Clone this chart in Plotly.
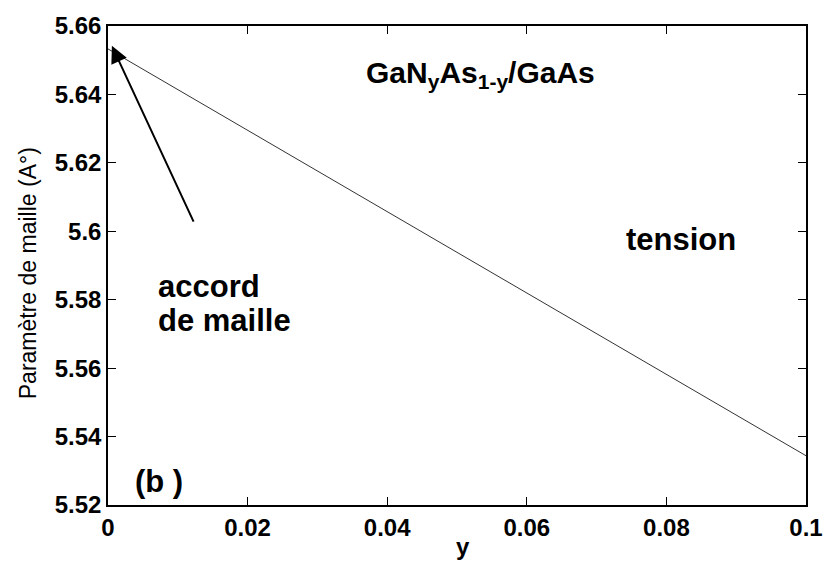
import plotly.graph_objects as go

# Lattice parameter of GaN(y)As(1-y) vs nitrogen fraction y (Vegard's law)
y_frac = [0.0, 0.02, 0.04, 0.06, 0.08, 0.1]
lattice = [5.6533, 5.6295, 5.6057, 5.5820, 5.5582, 5.5344]

x_ticks = [0, 0.02, 0.04, 0.06, 0.08, 0.1]
x_tick_text = ["0", "0.02", "0.04", "0.06", "0.08", "0.1"]
y_ticks = [5.52, 5.54, 5.56, 5.58, 5.60, 5.62, 5.64, 5.66]
y_tick_text = ["5.52", "5.54", "5.56", "5.58", "5.6", "5.62", "5.64", "5.66"]

FONT = "Liberation Sans, Arial, sans-serif"

fig = go.Figure()
fig.add_trace(go.Scatter(
    x=y_frac, y=lattice, mode="lines",
    line=dict(color="#333333", width=1),
    showlegend=False, hoverinfo="skip",
))

axis_common = dict(
    showline=True, linecolor="black", linewidth=1.5, mirror="ticks",
    ticks="inside", ticklen=8, tickwidth=1, tickcolor="black",
    showgrid=False, zeroline=False, ticklabeloverflow="allow",
    tickfont=dict(family=FONT, size=24, color="black", weight="bold"),
)

fig.update_xaxes(range=[0, 0.1], tickvals=x_ticks, ticktext=x_tick_text, **axis_common)
fig.update_yaxes(range=[5.52, 5.66], tickvals=y_ticks, ticktext=y_tick_text, **axis_common)

# Axis titles
fig.add_annotation(x=0.508, y=-0.086, xref="paper", yref="paper",
                   text="y", showarrow=False, xanchor="center", yanchor="middle",
                   font=dict(family=FONT, size=24, color="black", weight="bold"))
fig.add_annotation(x=-0.1152, y=0.483, xref="paper", yref="paper",
                   text="Paramètre de maille (A°)", showarrow=False, textangle=-90,
                   xanchor="center", yanchor="middle",
                   font=dict(family=FONT, size=23, color="black"))

bold = dict(family=FONT, size=31, color="black", weight="bold")
fig.add_annotation(x=0.0534, y=5.6458, xref="x", yref="y",
                   text="GaN<sub>y</sub>As<sub>1-y</sub>/GaAs",
                   showarrow=False, font=dict(family=FONT, size=30, color="black", weight="bold"))
fig.add_annotation(x=0.08202, y=5.5975, xref="x", yref="y",
                   text="tension", showarrow=False, font=bold)
fig.add_annotation(x=0.00688, y=5.5839, xref="x", yref="y",
                   text="accord", showarrow=False, font=bold, xanchor="left")
fig.add_annotation(x=0.00688, y=5.5738, xref="x", yref="y",
                   text="de maille", showarrow=False, font=bold, xanchor="left")
fig.add_annotation(x=0.00351, y=5.5269, xref="x", yref="y",
                   text="(b )", showarrow=False, font=bold, xanchor="left")
# Arrow pointing at the lattice-matched point y = 0
fig.add_annotation(x=0.00056, y=5.6542, ax=0.01236, ay=5.6024,
                   xref="x", yref="y", axref="x", ayref="y",
                   text="", showarrow=True, arrowhead=2, arrowsize=1.7,
                   arrowwidth=2, arrowcolor="black")

fig.update_layout(
    width=835, height=561,
    margin=dict(l=108, r=15, t=21, b=56),
    paper_bgcolor="white", plot_bgcolor="white",
)

fig.write_html("out.html")
